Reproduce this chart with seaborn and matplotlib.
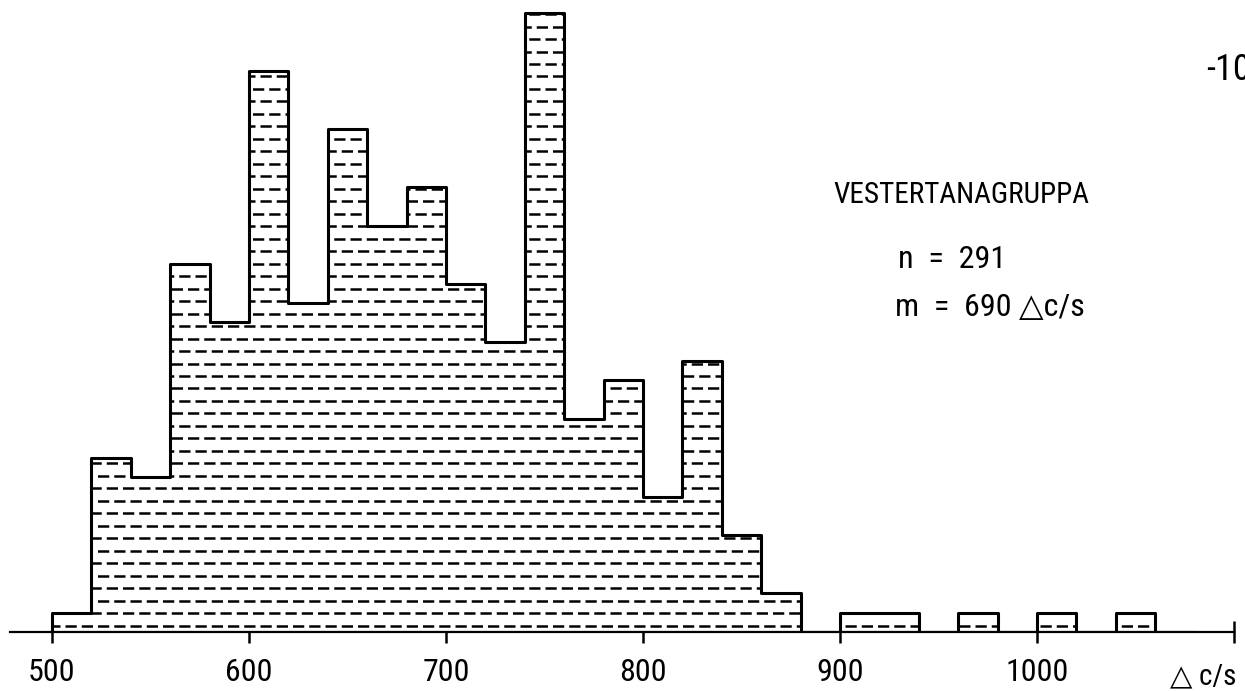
import numpy as np
import pandas as pd
import seaborn as sns
import matplotlib.pyplot as plt
from matplotlib import font_manager

# ---- data (counts per 20 c/s class) ----
bin_starts = [500, 520, 540, 560, 580, 600, 620, 640, 660, 680, 700, 720, 740,
              760, 780, 800, 820, 840, 860, 880, 900, 920, 940, 960, 980, 1000,
              1020, 1040, 1060]
counts = [1, 9, 8, 19, 16, 29, 17, 26, 21, 23, 18, 15, 32,
          11, 13, 7, 14, 5, 2, 0, 1, 1, 0, 1, 0, 1,
          0, 1, 0]
bin_width = 20
tick_values = [500, 600, 700, 800, 900, 1000, 1100]
tick_labels = ["500", "600", "700", "800", "900", "1000", ""]
title_text = "VESTERTANAGRUPPA"
n_text = "n  =  291"
m_text = "m  =  690 \u25b3c/s"
unit_text = "\u25b3 c/s"
page_text = "-10"

sns.set_style("white")

# pick a narrow font if one is installed
names = {(f.name, f.stretch) for f in font_manager.fontManager.ttflist}
fam_names = {f.name for f in font_manager.fontManager.ttflist}
font_kw = {"family": ["Liberation Sans", "DejaVu Sans"]}
narrow = False
for cand in ["Liberation Sans Narrow", "Arial Narrow", "Roboto Condensed",
             "Open Sans Condensed", "DejaVu Sans Condensed", "Noto Sans Condensed"]:
    if cand in fam_names:
        font_kw = {"family": [cand, "DejaVu Sans"]}
        narrow = True
        break
if not narrow:
    for fam in ["DejaVu Sans", "Noto Sans", "Open Sans", "Roboto"]:
        if (fam, "condensed") in names or (fam, 75) in names:
            font_kw = {"family": [fam, "DejaVu Sans"], "stretch": "condensed"}
            narrow = True
            break
plt.rcParams["font.family"] = font_kw["family"]
if "stretch" in font_kw:
    plt.rcParams["font.stretch"] = "condensed"

fs_title = 21 if narrow else 18
fs_main = 23 if narrow else 19
fs_tick = 23 if narrow else 19

W, H = 1245, 691
fig = plt.figure(figsize=(W / 100, H / 100), dpi=100)
ax = fig.add_axes([0, 59 / H, 1, 632 / H])

centers = [b + bin_width / 2 for b in bin_starts]
edges = list(bin_starts) + [bin_starts[-1] + bin_width]
df = pd.DataFrame({"x": centers, "w": counts})

sns.histplot(data=df, x="x", weights="w", bins=edges, element="step",
             fill=True, facecolor="white", edgecolor="black", alpha=1,
             linewidth=2.2, ax=ax)

# axis scaling
scale = (1037 - 52) / 500.0
x0 = 500 - 52 / scale
ax.set_xlim(x0, x0 + W / scale)
ax.set_ylim(0, 632 / 19.35)

# dashed horizontal hatching clipped to histogram outline
poly = ax.collections[0]
clip = poly.get_paths()[0]
row = 0.33
k = 0
while row < 33:
    ln, = ax.plot([x0, 1110], [row, row], color="black", lw=1.8,
                  ls=(3.0 * (k % 2), (4.5, 2.0)), dash_capstyle="butt")
    ln.set_clip_path(clip, ax.transData)
    row += 0.645
    k += 1

ax.set_xticks(tick_values)
ax.set_xticklabels(tick_labels)
ax.set_yticks([])
ax.set_xlabel("")
ax.set_ylabel("")
ax.tick_params(axis="x", bottom=True, direction="inout", length=16, width=1.8,
               pad=11, labelsize=fs_tick, colors="black")
for lab in ax.get_xticklabels():
    lab.set(**font_kw)
for s in ["left", "top", "right"]:
    ax.spines[s].set_visible(False)
ax.spines["bottom"].set_bounds(x0 + 10 / scale, 1100)
ax.spines["bottom"].set_linewidth(1.6)
ax.spines["bottom"].set_color("black")


def ftext(x, y, s, **kw):
    fig.text(x / W, 1 - y / H, s, va="center", ha="left", color="black",
             **font_kw, **kw)


ftext(833, 195, title_text, fontsize=fs_title)
ftext(898, 260, n_text, fontsize=fs_main)
ftext(895, 308, m_text, fontsize=fs_main)
ftext(1206, 70, page_text, fontsize=fs_main + 3)
ftext(1170, 676, unit_text, fontsize=fs_main - 2)

fig.savefig("out.png", dpi=100)
